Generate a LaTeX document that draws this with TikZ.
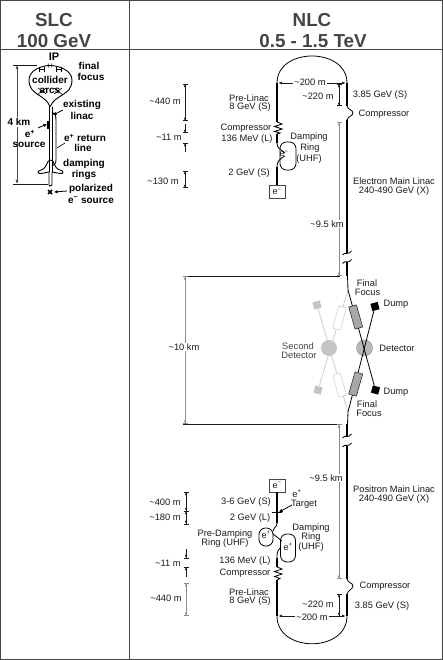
\documentclass[tikz,border=0pt]{standalone}
\usepackage{fontspec}
\setmainfont{Liberation Sans}
\usetikzlibrary{arrows.meta,positioning}
\definecolor{ink}{HTML}{1A1A1A}
\definecolor{frame}{HTML}{444444}
\definecolor{muted}{HTML}{8C8C8C}
\definecolor{magnet}{HTML}{A8A8A8}
\definecolor{detfill}{HTML}{B8B8B8}
\definecolor{ghost}{HTML}{D2D2D2}
\definecolor{ghostfill}{HTML}{C4C4C4}
\begin{document}
\begin{tikzpicture}[
  x=1pt,
  y=-1pt,
  title/.style={font=\fontsize{18.8}{20}\selectfont\bfseries,text=frame,inner sep=0pt},
  slclabel/.style={font=\fontsize{10}{11}\selectfont\bfseries,text=black,inner sep=0pt},
  label/.style={font=\fontsize{9.3}{10}\selectfont,text=ink,inner sep=0pt},
  gaplabel/.style={label,fill=white,inner sep=1pt},
  rule/.style={line width=0.9pt,draw=frame},
  beam/.style={line width=0.8pt,draw=black},
  linac/.style={line width=2.9pt,draw=black},
  thinline/.style={line width=0.6pt,draw=black},
  slcline/.style={line width=0.9pt,draw=black},
  ghostline/.style={line width=0.9pt,draw=ghost},
  dim/.style={
    line width=0.5pt,draw=ink,
    {Bar[width=5pt,length=.4pt]Latex[length=2.6pt,width=2.6pt]}-{Latex[length=2.6pt,width=2.6pt]Bar[width=5pt,length=.4pt]}
  },
  dimgrey/.style={dim,line width=0.9pt,draw=muted},
  dimin/.style={
    line width=0.5pt,draw=ink,
    -{Latex[length=2.6pt,width=2.6pt]Bar[width=5pt,length=.4pt]}
  },
  span/.style={
    line width=0.6pt,draw=ink,shorten >=1.5pt,shorten <=1.5pt,
    {Latex[length=3.5pt,width=3pt]}-{Latex[length=3.5pt,width=3pt]}
  },
  pointer/.style={line width=0.8pt,draw=black,-{Latex[length=3.5pt,width=3.5pt]}},
  magnetbox/.style={rectangle,minimum width=23pt,minimum height=8pt,inner sep=0pt,draw=ink,fill=magnet,line width=0.5pt},
  ghostbox/.style={rectangle,minimum width=23pt,minimum height=8pt,inner sep=0pt,draw=ghost,fill=white,line width=0.6pt},
  dump/.style={rectangle,minimum size=7.5pt,inner sep=0pt,fill=black},
  ghostdump/.style={rectangle,minimum size=7.5pt,inner sep=0pt,fill=ghostfill},
  detector/.style={circle,minimum size=16pt,inner sep=0pt,draw=muted,fill=detfill,line width=0.4pt},
  seconddetector/.style={circle,minimum size=16pt,inner sep=0pt,fill=ghostfill},
  source/.style={rectangle,minimum width=16pt,minimum height=13pt,inner sep=0pt,draw=frame,fill=white,line width=0.7pt,font=\fontsize{9}{10}\selectfont,text=ink},
  ring/.style={rectangle,rounded corners=6.5pt,inner sep=0pt,draw=black,fill=white,line width=0.8pt},
  ringtext/.style={font=\fontsize{9}{10}\selectfont,text=ink,inner sep=0pt}
]
  \useasboundingbox (0,0) rectangle (443,660);
  \coordinate (tl) at (0.5,0.5);
  \coordinate (br) at (442,659);
  \coordinate (hl) at (0.5,49);
  \coordinate (hr) at (442,49);
  \coordinate (vt) at (129.5,0.5);
  \coordinate (vb) at (129.5,659);
  \draw[rule] (tl) rectangle (br);
  \draw[rule] (hl) -- (hr);
  \draw[rule] (vt) -- (vb);
  \node[title] (slc-a) at (54,20) {SLC};
  \node[title] (slc-b) at (54,41) {100 GeV};
  \node[title] (nlc-a) at (312,20) {NLC};
  \node[title] (nlc-b) at (313,41) {0.5 - 1.5 TeV};

  \begin{scope}
    \coordinate (s-ip) at (50,65.5);
    \coordinate (s-neck) at (50,107);
    \coordinate (s-a) at (49,107);
    \coordinate (s-b) at (49,172);
    \coordinate (s-c) at (52,107);
    \coordinate (s-d) at (52,172);
    \coordinate (s-e) at (52,112);
    \coordinate (s-f) at (56,120);
    \coordinate (s-g) at (56,160);
    \coordinate (s-h) at (50,186);
    \coordinate (s-top) at (13,65);
    \coordinate (s-topr) at (37,65);
    \coordinate (s-bot) at (13,184);
    \coordinate (s-botr) at (48,184);
    \coordinate (s-da) at (17,65);
    \coordinate (s-db) at (17,184);
    \draw[slcline] (s-neck) .. controls (46,94) and (29,96) .. (29,80)
      .. controls (29,70) and (42,65.5) .. (s-ip)
      .. controls (58,65.5) and (72,70) .. (72,80)
      .. controls (72,96) and (55,94) .. (s-neck);
    \draw[slcline] (s-a) -- (s-b);
    \draw[slcline] (s-c) -- (s-d);
    \draw[slcline] (s-e) .. controls (55,113) and (56,116) .. (s-f) -- (s-g) .. controls (56,164) and (54,165) .. (52,166);
    \draw[slcline] (50.5,160) .. controls (46,160) and (48,168) .. (41,170)
      .. controls (37,171) and (37,174) .. (41,173.5) -- (49,172);
    \draw[slcline] (50.5,160) .. controls (55,160) and (53,168) .. (60,170)
      .. controls (64,171) and (64,174) .. (60,173.5) -- (52,172);
    \draw[slcline] (s-b) -- (49,185) -- (s-h) -- (52,185) -- (s-d);
    \draw[line width=2.2pt,draw=black] (47.8,121.5) -- (47.8,129);
    \draw[line width=1.6pt,draw=black] (48,190) -- (52,194);
    \draw[line width=1.6pt,draw=black] (48,194) -- (52,190);
    \draw[thinline] (37,95) -- (46,88);
    \draw[thinline] (63,95) -- (54,88);
    \draw[thinline] (38,88) -- (46,94);
    \draw[thinline] (62,88) -- (54,94);
    \draw[thinline,|-|] (39,69.5) -- (45,69.5);
    \draw[thinline,|-|] (56,69.5) -- (62,69.5);
    \draw[thinline] (48,63.5) -- (49,67.5);
    \draw[thinline] (52,63.5) -- (51,67.5);
    \draw[line width=0.6pt,draw=ink] (s-top) -- (s-topr);
    \draw[line width=0.6pt,draw=ink] (s-bot) -- (s-botr);
    \draw[line width=0.7pt,draw=frame,{Latex[length=4pt,width=3pt]}-{Latex[length=4pt,width=3pt]}] (s-da) -- (s-db);
    \node[slclabel,font=\fontsize{11}{12}\selectfont\bfseries] (s-ip-l) at (54,57) {IP};
    \node[slclabel] (s-final) at (89,66) {final};
    \node[slclabel] (s-focus) at (91,77) {focus};
    \node[slclabel] (s-collider) at (50,80) {collider};
    \node[slclabel] (s-arcs) at (50,91) {arcs};
    \node[slclabel] (s-existing) at (82,105) {existing};
    \node[slclabel] (s-linac) at (82,116) {linac};
    \node[slclabel,fill=white,inner sep=1pt] (s-km) at (19,122) {4 km};
    \node[slclabel] (s-ep) at (30,134) {e\textsuperscript{+}};
    \node[slclabel] (s-source) at (29,144.5) {source};
    \node[slclabel] (s-return) at (85,138) {e\textsuperscript{+} return};
    \node[slclabel] (s-line) at (83,148) {line};
    \node[slclabel] (s-damping) at (84,164) {damping};
    \node[slclabel] (s-rings) at (84,175) {rings};
    \node[slclabel] (s-pol) at (91,189) {polarized};
    \node[slclabel] (s-em) at (91,200) {e\textsuperscript{−} source};
    \coordinate (s-pa) at (63,110);
    \coordinate (s-pb) at (53,115);
    \coordinate (s-pc) at (38,128);
    \coordinate (s-pd) at (47,124);
    \coordinate (s-pe) at (65,143);
    \coordinate (s-pf) at (57,148);
    \coordinate (s-pg) at (67,191);
    \coordinate (s-ph) at (54,192);
    \draw[pointer] (s-pa) -- (s-pb);
    \draw[pointer] (s-pc) -- (s-pd);
    \draw[thinline] (s-pe) -- (s-pf);
    \draw[pointer] (s-pg) -- (s-ph);
  \end{scope}

  \begin{scope}
    \coordinate (e-a) at (277,83);
    \coordinate (e-b) at (277,122);
    \coordinate (e-c) at (277,134);
    \coordinate (e-d) at (277,143);
    \coordinate (e-e) at (277,167);
    \coordinate (e-f) at (277,186);
    \coordinate (m-a) at (347,83);
    \coordinate (m-b) at (347,106);
    \coordinate (m-c) at (347,120);
    \coordinate (m-d) at (347,253);
    \coordinate (m-e) at (347,262);
    \coordinate (m-f) at (347,276);
    \draw[beam] (e-a) .. controls (277,47) and (347,47) .. (m-a);
    \draw[linac] (e-a) -- (e-b);
    \draw[beam] (e-b) -- (282,124) -- (274.5,126.5) -- (282,129) -- (274.5,131.5) -- (280,133) -- (e-c);
    \draw[linac] (e-c) -- (e-d);
    \node[ring,minimum width=16pt,minimum height=28pt] (e-ring) at (288,156) {};
    \node[ringtext] (e-ring-l) at (284,154) {e\textsuperscript{−}};
    \draw[beam] (e-d) .. controls (277,149) and (281,149) .. (285,153);
    \draw[beam] (285,156) .. controls (279,159) and (277,162) .. (e-e);
    \draw[linac] (e-e) -- (e-f);
    \node[source] (e-src) at (277,192) {e\textsuperscript{−}};
    \draw[linac] (m-a) -- (m-b);
    \draw[beam] (m-b) .. controls (348,110) and (353,110) .. (353,113) .. controls (353,116) and (348,116) .. (m-c);
    \draw[linac] (m-c) -- (m-d);
    \draw[linac] (m-e) -- (m-f);
    \draw[beam] (342.5,255) .. controls (345,251) and (348,256) .. (351.5,251);
    \draw[beam] (342.5,263.5) .. controls (345,259.5) and (348,264.5) .. (351.5,259.5);

    \coordinate (d-a1) at (185,84);
    \coordinate (d-a2) at (185,121);
    \coordinate (d-b1) at (185,124);
    \coordinate (d-b2) at (185,133);
    \coordinate (d-c1) at (185,152);
    \coordinate (d-c2) at (185,143);
    \coordinate (d-d1) at (185,171);
    \coordinate (d-d2) at (185,188);
    \coordinate (d-e1) at (339,122);
    \coordinate (d-e2) at (339,276);
    \coordinate (d-f1) at (339,84);
    \coordinate (d-f2) at (339,106);
    \coordinate (d-g1) at (277,83);
    \coordinate (d-g2) at (347,83);
    \draw[dim] (d-a1) -- (d-a2);
    \draw[dimin] (d-b1) -- (d-b2);
    \draw[dimin] (d-c1) -- (d-c2);
    \draw[dim] (d-d1) -- (d-d2);
    \draw[dimgrey] (d-e1) -- (d-e2);
    \draw[dim] (d-f1) -- (d-f2);
    \draw[span] (d-g1) -- (d-g2);

    \node[label] (l-a) at (165,101) {\textasciitilde 440 m};
    \node[label] (l-b) at (169,137) {\textasciitilde 11 m};
    \node[label] (l-c) at (163,181) {\textasciitilde 130 m};
    \node[label] (l-d) at (249,98) {Pre-Linac};
    \node[label] (l-e) at (250,107) {8 GeV (S)};
    \node[label] (l-f) at (246,128) {Compressor};
    \node[label] (l-g) at (247,139) {136 MeV (L)};
    \node[label] (l-h) at (309,137) {Damping};
    \node[label] (l-i) at (310,148) {Ring};
    \node[label] (l-j) at (309,159) {(UHF)};
    \node[label] (l-k) at (249,173) {2 GeV (S)};
    \node[gaplabel] (l-l) at (310,82) {\textasciitilde 200 m};
    \node[label] (l-m) at (318,96) {\textasciitilde 220 m};
    \node[label] (l-n) at (380,95) {3.85 GeV (S)};
    \node[label] (l-o) at (384,114) {Compressor};
    \node[label] (l-p) at (394,181) {Electron Main Linac};
    \node[label] (l-q) at (394,191) {240-490 GeV (X)};
    \node[gaplabel] (l-r) at (327,224) {\textasciitilde 9.5 km};
  \end{scope}

  \begin{scope}
    \coordinate (f-a) at (347.5,276);
    \coordinate (f-b) at (348,290);
    \coordinate (f-c) at (348,412);
    \coordinate (f-d) at (347.5,424);
    \coordinate (f-l) at (183,276);
    \coordinate (f-lr) at (340,276);
    \coordinate (f-m) at (183,424);
    \coordinate (f-mr) at (340,424);
    \coordinate (f-u) at (185,276);
    \coordinate (f-v) at (185,424);
    \node[ghostdump,rotate=15] (g-dump-a) at (317,305) {};
    \node[ghostdump,rotate=-15] (g-dump-b) at (318,390) {};
    \draw[ghostline] (g-dump-a) -- (f-c);
    \draw[ghostline] (g-dump-b) -- (f-b);
    \node[ghostbox,rotate=-105] (g-mag-a) at (339.5,318) {};
    \node[ghostbox,rotate=105] (g-mag-b) at (339.5,385) {};
    \node[seconddetector] (g-det) at (329,348) {};
    \node[detector] (det) at (364.5,348) {};
    \node[dump,rotate=15] (dump-a) at (375,306.5) {};
    \node[dump,rotate=-15] (dump-b) at (375.5,390) {};
    \draw[beam] (f-a) -- (f-b) -- (dump-b);
    \draw[beam] (f-d) -- (f-c) -- (dump-a);
    \node[magnetbox,rotate=-74] (mag-a) at (355.7,317) {};
    \node[magnetbox,rotate=74] (mag-b) at (355.7,384) {};
    \draw[line width=0.6pt,draw=ink] (f-l) -- (f-lr);
    \draw[line width=0.6pt,draw=ink] (f-m) -- (f-mr);
    \draw[dimgrey] (f-u) -- (f-v);
    \node[gaplabel] (k-a) at (184,347) {\textasciitilde 10 km};
    \node[label] (k-b) at (367,283) {Final};
    \node[label] (k-c) at (367.5,292) {Focus};
    \node[label] (k-d) at (396,304) {Dump};
    \node[label] (k-e) at (396,392) {Dump};
    \node[label] (k-f) at (397,348) {Detector};
    \node[label,text=frame] (k-g) at (298,346) {Second};
    \node[label,text=frame] (k-h) at (299,355) {Detector};
    \node[label] (k-i) at (367,404) {Final};
    \node[label] (k-j) at (369,413) {Focus};
  \end{scope}

  \begin{scope}
    \coordinate (p-a) at (277,492);
    \coordinate (p-b) at (277,523);
    \coordinate (p-c) at (277,558);
    \coordinate (p-d) at (277,567);
    \coordinate (p-e) at (277,580);
    \coordinate (p-f) at (277,616);
    \coordinate (n-a) at (347,424);
    \coordinate (n-b) at (347,437);
    \coordinate (n-c) at (347,446);
    \coordinate (n-d) at (347,579);
    \coordinate (n-e) at (347,594);
    \coordinate (n-f) at (347,616);
    \draw[beam] (p-f) .. controls (277,653) and (347,653) .. (n-f);
    \node[source] (p-src) at (277,485.5) {e\textsuperscript{−}};
    \draw[linac] (p-a) -- (p-b);
    \draw[thinline] (272,512) -- (282,512);
    \node[ring,minimum width=14pt,minimum height=18pt] (p-ring-a) at (266,537) {};
    \node[ringtext] (p-ring-al) at (266,535) {e\textsuperscript{+}};
    \node[ring,minimum width=15pt,minimum height=28pt] (p-ring-b) at (288,548) {};
    \node[ringtext] (p-ring-bl) at (288,547) {e\textsuperscript{+}};
    \draw[beam] (p-b) .. controls (277,527) and (274,527) .. (273,531);
    \coordinate (p-link) at (273,534);
    \coordinate (p-linkb) at (282,541);
    \draw[beam] (p-link) -- (p-linkb);
    \draw[beam] (p-ring-b.west) .. controls (277,551) and (277,554) .. (p-c);
    \draw[linac] (p-c) -- (p-d);
    \draw[beam] (p-d) -- (282,569) -- (274.5,571.5) -- (282,574) -- (274.5,576.5) -- (280,578.5) -- (p-e);
    \draw[linac] (p-e) -- (p-f);
    \draw[linac] (n-a) -- (n-b);
    \draw[linac] (n-c) -- (n-d);
    \draw[beam] (342.5,438) .. controls (345,434) and (348,439) .. (351.5,434);
    \draw[beam] (342.5,447) .. controls (345,443) and (348,448) .. (351.5,443);
    \draw[beam] (n-d) .. controls (348,583) and (353,583) .. (353,586) .. controls (353,589) and (348,590) .. (n-e);
    \draw[linac] (n-e) -- (n-f);

    \coordinate (t-a) at (292,505);
    \coordinate (t-b) at (279,512);
    \draw[pointer] (t-a) -- (t-b);
    \coordinate (q-a1) at (186,492);
    \coordinate (q-a2) at (186,511);
    \coordinate (q-b2) at (186,524);
    \coordinate (q-c1) at (186,549);
    \coordinate (q-c2) at (186,558);
    \coordinate (q-d1) at (186,577);
    \coordinate (q-d2) at (186,567);
    \coordinate (q-e1) at (186,583);
    \coordinate (q-e2) at (186,616);
    \coordinate (q-f1) at (339,424);
    \coordinate (q-f2) at (339,579);
    \coordinate (q-g1) at (339,594);
    \coordinate (q-g2) at (339,616);
    \coordinate (q-h1) at (277,616);
    \coordinate (q-h2) at (347,616);
    \draw[dim] (q-a1) -- (q-a2);
    \draw[dim] (q-a2) -- (q-b2);
    \draw[dimin] (q-c1) -- (q-c2);
    \draw[dimin] (q-d1) -- (q-d2);
    \draw[dimgrey,line width=0.7pt] (q-e1) -- (q-e2);
    \draw[dimgrey] (q-f1) -- (q-f2);
    \draw[dim] (q-g1) -- (q-g2);
    \draw[span] (q-h1) -- (q-h2);

    \node[label] (b-a) at (165,502) {\textasciitilde 400 m};
    \node[label] (b-b) at (165,517) {\textasciitilde 180 m};
    \node[label] (b-c) at (168,563) {\textasciitilde 11 m};
    \node[label] (b-d) at (166,598) {\textasciitilde 440 m};
    \node[label] (b-e) at (246,502) {3-6 GeV (S)};
    \node[label] (b-f) at (250,518) {2 GeV (L)};
    \node[label] (b-g) at (297,494) {e\textsuperscript{+}};
    \node[label] (b-h) at (304,504) {Target};
    \node[label] (b-i) at (225,534) {Pre-Damping};
    \node[label] (b-j) at (225,543) {Ring (UHF)};
    \node[label] (b-k) at (311,528) {Damping};
    \node[label] (b-l) at (311,537) {Ring};
    \node[label] (b-m) at (311,547) {(UHF)};
    \node[label] (b-n) at (245,561) {136 MeV (L)};
    \node[label] (b-o) at (245,573) {Compressor};
    \node[label] (b-p) at (249,592) {Pre-Linac};
    \node[label] (b-q) at (250,601) {8 GeV (S)};
    \node[label] (b-r) at (318,604) {\textasciitilde 220 m};
    \node[label] (b-s) at (382,606) {3.85 GeV (S)};
    \node[label] (b-t) at (385,586) {Compressor};
    \node[gaplabel] (b-u) at (326,478) {\textasciitilde 9.5 km};
    \node[label] (b-v) at (394,489) {Positron Main Linac};
    \node[label] (b-w) at (394,499) {240-490 GeV (X)};
    \node[gaplabel] (b-x) at (312,617) {\textasciitilde 200 m};
  \end{scope}
\end{tikzpicture}
\end{document}
